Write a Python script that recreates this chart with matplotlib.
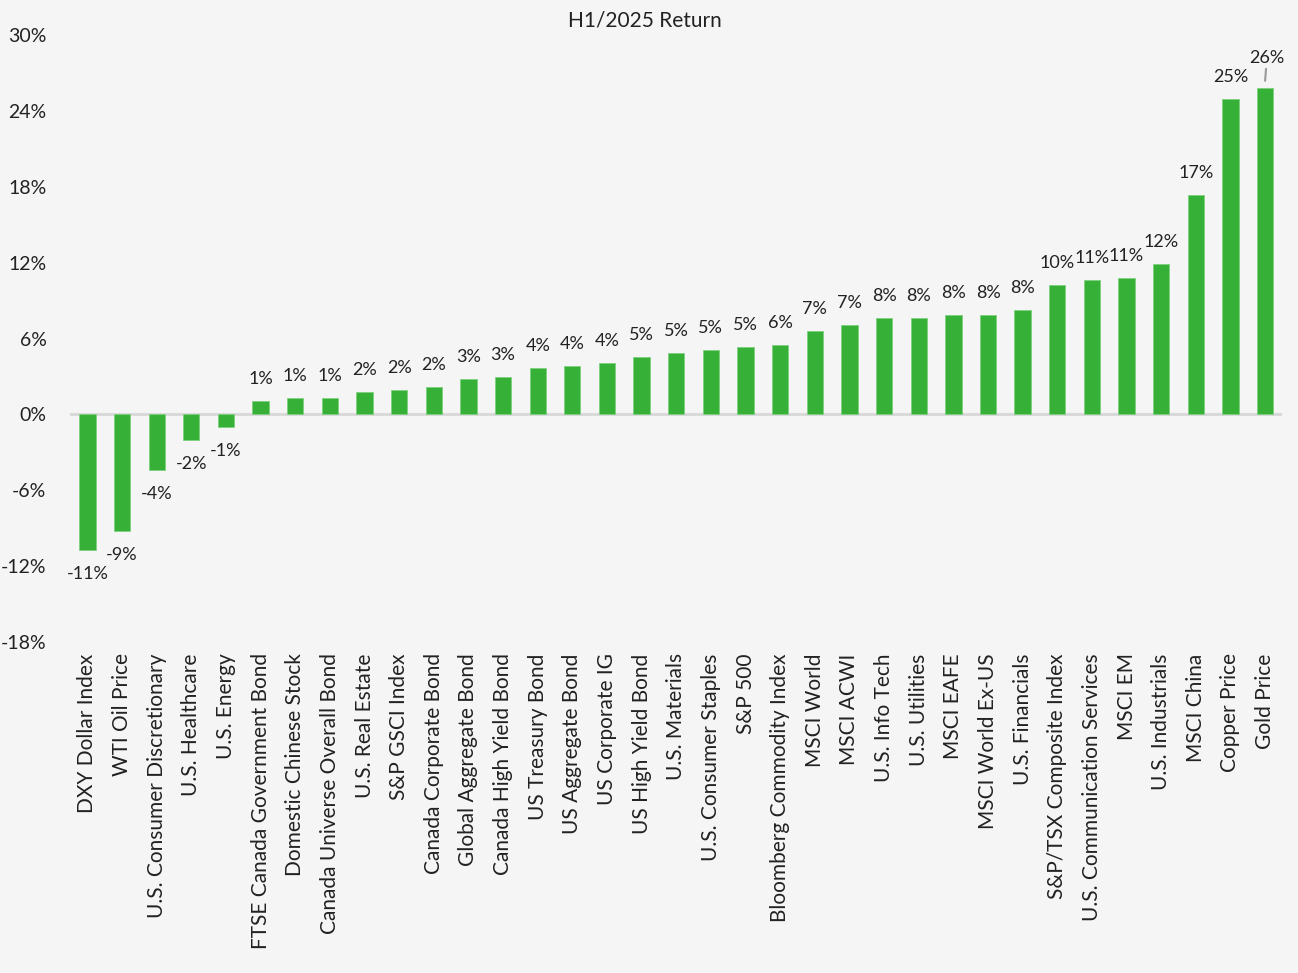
import matplotlib
matplotlib.use("Agg")
import matplotlib.pyplot as plt
from matplotlib.ticker import FuncFormatter

plt.rcParams['font.family'] = ['Lato', 'DejaVu Sans']

categories = [
    "DXY Dollar Index", "WTI Oil Price", "U.S. Consumer Discretionary", "U.S. Healthcare",
    "U.S. Energy", "FTSE Canada Government Bond", "Domestic Chinese Stock",
    "Canada Universe Overall Bond", "U.S. Real Estate", "S&P GSCI Index",
    "Canada Corporate Bond", "Global Aggregate Bond", "Canada High Yield Bond",
    "US Treasury Bond", "US Aggregate Bond", "US Corporate IG", "US High Yield Bond",
    "U.S. Materials", "U.S. Consumer Staples", "S&P 500", "Bloomberg Commodity Index",
    "MSCI World", "MSCI ACWI", "U.S. Info Tech", "U.S. Utilities", "MSCI EAFE",
    "MSCI World Ex-US", "U.S. Financials", "S&P/TSX Composite Index",
    "U.S. Communication Services", "MSCI EM", "U.S. Industrials", "MSCI China",
    "Copper Price", "Gold Price",
]
returns = [
    -10.7, -9.2, -4.35, -2.05, -0.98, 1.1, 1.3, 1.3, 1.78, 1.96,
    2.16, 2.8, 3.0, 3.65, 3.85, 4.06, 4.55, 4.9, 5.1, 5.32, 5.53,
    6.6, 7.04, 7.64, 7.64, 7.85, 7.85, 8.27, 10.2, 10.6, 10.8, 11.86,
    17.37, 24.93, 25.78,
]
yticks = [-18, -12, -6, 0, 6, 12, 18, 24, 30]
title = "H1/2025 Return"

bg = "#f5f5f5"
green = "#36b037"
text_color = "#222222"

fig = plt.figure(figsize=(12.98, 9.73), dpi=100, facecolor=bg)
ax = fig.add_axes([0.054, 0.340, 0.934, 0.624], facecolor=bg)

x = list(range(len(categories)))
ax.bar(x, returns, width=0.47, color=green, edgecolor="#7fd07f", linewidth=0.6, zorder=3)
ax.axhline(0, color="#d9d9d9", linewidth=2.2, zorder=2)

ax.set_xlim(-0.5, len(categories) - 0.5)
ax.set_ylim(-18, 30)
ax.set_yticks(yticks)
ax.yaxis.set_major_formatter(FuncFormatter(lambda v, p: f"{v:.0f}%"))
ax.set_xticks(x)
ax.set_xticklabels(categories, rotation=90, fontsize=15, color=text_color)
ax.tick_params(axis='y', length=0, pad=17, labelsize=14, labelcolor=text_color)
ax.tick_params(axis='x', length=0, pad=8)
for s in ax.spines.values():
    s.set_visible(False)

for i, v in enumerate(returns):
    lbl = f"{round(v):.0f}%"
    if i == len(returns) - 1:
        ax.annotate(lbl, xy=(i, v + 0.6), xytext=(i + 0.05, v + 2.4),
                    ha="center", va="center", fontsize=13, color=text_color,
                    arrowprops=dict(arrowstyle="-", color="#999999", lw=1.5,
                                    shrinkA=9, shrinkB=0))
    elif v >= 0:
        ax.annotate(lbl, xy=(i, v), xytext=(0, 22), textcoords="offset pixels",
                    ha="center", va="center", fontsize=13, color=text_color)
    else:
        ax.annotate(lbl, xy=(i, v), xytext=(0, -24), textcoords="offset pixels",
                    ha="center", va="center", fontsize=13, color=text_color)

fig.text(0.497, 0.979, title, ha="center", va="center", fontsize=15, color=text_color)

fig.savefig("out.png", dpi=100, facecolor=bg)
